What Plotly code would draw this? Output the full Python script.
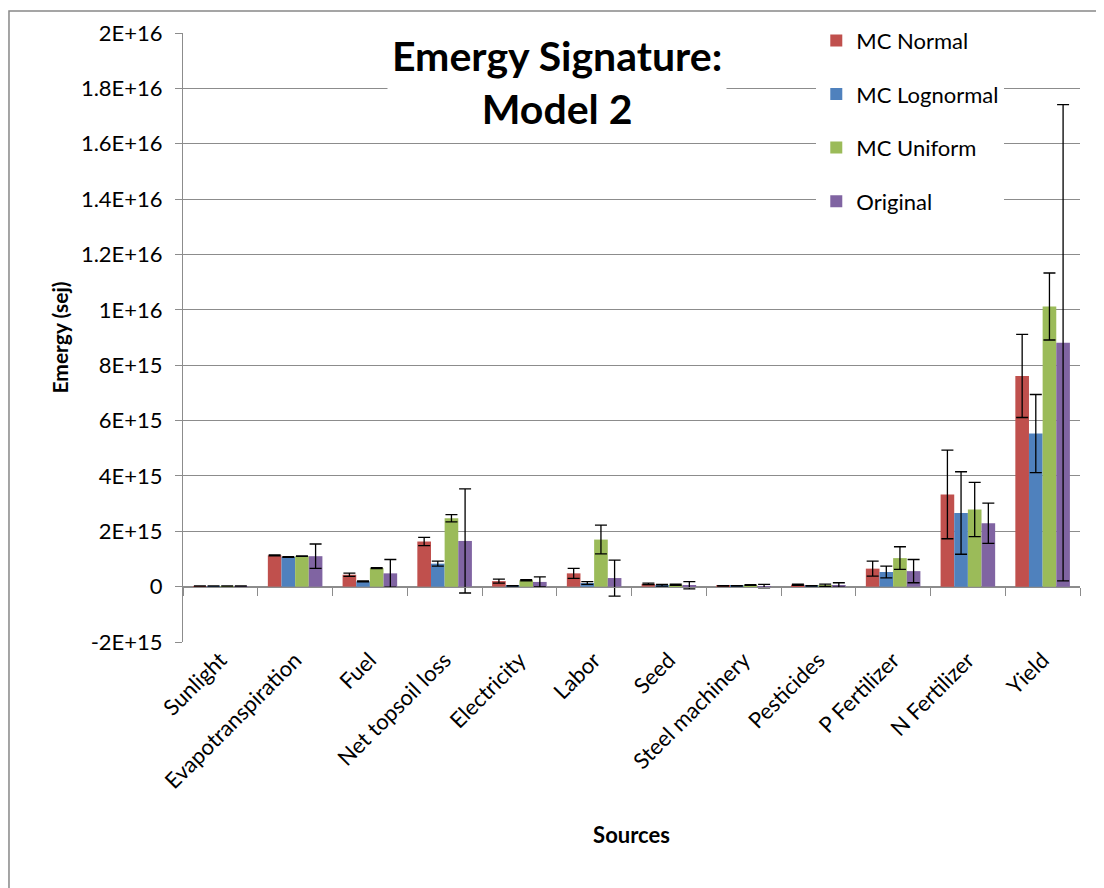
import plotly.graph_objects as go

categories = ["Sunlight", "Evapotranspiration", "Fuel", "Net topsoil loss", "Electricity",
              "Labor", "Seed", "Steel machinery", "Pesticides", "P Fertilizer",
              "N Fertilizer", "Yield"]

SCALE = 1e15  # values below are in units of 1E+15 sej
mc_normal = [0.02, 1.13, 0.43, 1.63, 0.20, 0.48, 0.10, 0.03, 0.07, 0.65, 3.33, 7.61]
mc_normal_err = [0.005, 0.02, 0.06, 0.15, 0.07, 0.18, 0.03, 0.01, 0.02, 0.27, 1.60, 1.50]
mc_lognormal = [0.02, 1.07, 0.19, 0.83, 0.03, 0.13, 0.05, 0.03, 0.03, 0.53, 2.66, 5.53]
mc_lognormal_err = [0.005, 0.01, 0.02, 0.09, 0.01, 0.05, 0.03, 0.01, 0.01, 0.21, 1.49, 1.41]
mc_uniform = [0.02, 1.10, 0.67, 2.47, 0.23, 1.70, 0.07, 0.06, 0.05, 1.03, 2.79, 10.12]
mc_uniform_err = [0.005, 0.01, 0.02, 0.13, 0.02, 0.52, 0.02, 0.01, 0.04, 0.41, 0.98, 1.21]
original = [0.02, 1.10, 0.48, 1.65, 0.17, 0.31, 0.05, 0.02, 0.06, 0.56, 2.29, 8.81]
original_err = [0.005, 0.44, 0.50, 1.88, 0.18, 0.65, 0.13, 0.06, 0.08, 0.42, 0.73, 8.60]

series_names = ["MC Normal", "MC Lognormal", "MC Uniform", "Original"]
colors = ["#C0504D", "#4F81BD", "#9BBB59", "#8064A2"]

y_tickvals = [-2e15, 0, 2e15, 4e15, 6e15, 8e15, 1e16, 1.2e16, 1.4e16, 1.6e16, 1.8e16, 2e16]
y_ticktext = ["-2E+15", "0", "2E+15", "4E+15", "6E+15", "8E+15", "1E+16",
              "1.2E+16", "1.4E+16", "1.6E+16", "1.8E+16", "2E+16"]

FONT = "Lato, 'Open Sans', sans-serif"
GRID = "#8C8C8C"

fig = go.Figure()
data = [(mc_normal, mc_normal_err), (mc_lognormal, mc_lognormal_err),
        (mc_uniform, mc_uniform_err), (original, original_err)]
for name, (vals, errs), col in zip(series_names, data, colors):
    fig.add_trace(go.Bar(
        x=categories, y=[v * SCALE for v in vals], name=name,
        marker=dict(color=col, line=dict(width=0)),
        legendgroup=name,
        error_y=dict(type="data", array=[e * SCALE for e in errs],
                     color="black", thickness=1.3, width=6),
    ))

# invisible trace on overlay axis to draw the category axis line at zero
fig.add_trace(go.Scatter(x=categories, y=[0] * len(categories), xaxis="x2",
                         mode="lines", line=dict(width=0), opacity=0,
                         showlegend=False, hoverinfo="skip"))

fig.update_layout(
    width=1096, height=880,
    paper_bgcolor="white", plot_bgcolor="white",
    margin=dict(l=175, r=24, t=23, b=246),
    barmode="group", bargap=0.27, bargroupgap=0,
    font=dict(family=FONT, size=22, color="black"),
    showlegend=True,
    legend=dict(x=0.706, y=1.022, xanchor="left", yanchor="top",
                bgcolor="white", font=dict(size=22, family=FONT),
                tracegroupgap=22, traceorder="grouped",
                itemwidth=30),
    xaxis=dict(showgrid=False, showline=False, ticks="",
               tickangle=-45, tickfont=dict(size=22),
               title=dict(text="<b>Sources</b>", font=dict(size=22), standoff=34)),
    xaxis2=dict(overlaying="x", anchor="free", position=2 / 22,
                showline=True, linecolor=GRID, linewidth=1,
                ticks="outside", ticklen=8, tickcolor=GRID, tickson="boundaries",
                showticklabels=False, showgrid=False, zeroline=False,
                matches="x"),
    yaxis=dict(range=[-2e15, 2e16], tickvals=y_tickvals, ticktext=y_ticktext,
               showgrid=True, gridcolor=GRID, gridwidth=1,
               zeroline=False, showline=True, linecolor=GRID, linewidth=1,
               ticks="outside", ticklen=7, tickcolor=GRID,
               tickfont=dict(size=22), ticklabelstandoff=8,
               title=dict(text="<b>Emergy (sej)</b>", font=dict(size=21), standoff=6)),
)

fig.add_annotation(text="<b>Emergy Signature:<br>Model 2</b>",
                   xref="paper", yref="paper", x=0.417, y=0.92,
                   xanchor="center", yanchor="middle",
                   showarrow=False, font=dict(size=41, family=FONT),
                   bgcolor="white", borderpad=4, align="center")

# outer chart border
fig.add_shape(type="rect", xref="paper", yref="paper",
              x0=-0.194, x1=1.0212, y0=-0.41, y1=1.036,
              line=dict(color="#888888", width=1.5), fillcolor="rgba(0,0,0,0)",
              layer="below")

fig.write_html("out.html")
